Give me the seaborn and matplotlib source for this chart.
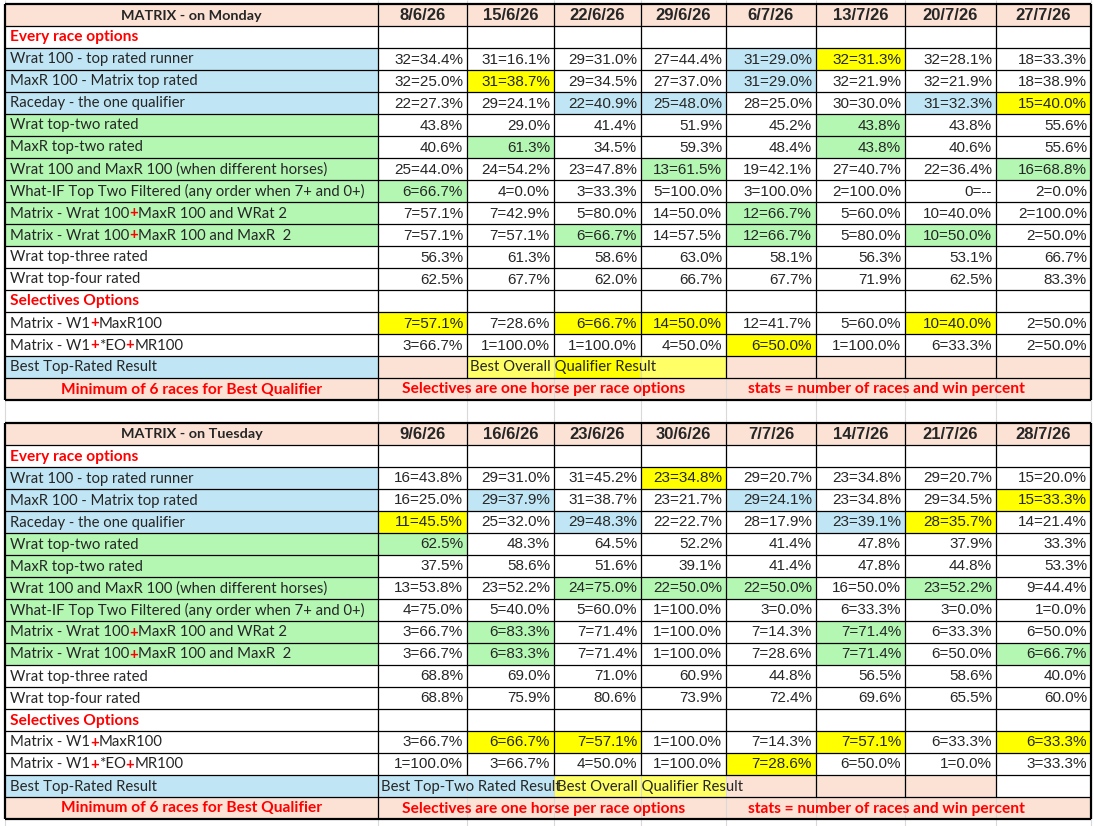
import numpy as np
import matplotlib
matplotlib.use("Agg")
import matplotlib.pyplot as plt
from matplotlib.colors import ListedColormap
from matplotlib.patches import Rectangle
import seaborn as sns

# ---- table content ----
row_labels = [
    "Wrat 100 - top rated runner",
    "MaxR 100 - Matrix top rated",
    "Raceday - the one qualifier",
    "Wrat top-two rated",
    "MaxR top-two rated",
    "Wrat 100 and MaxR 100 (when different horses)",
    "What-IF Top Two Filtered (any order when 7+ and 0+)",
    "Matrix - Wrat 100+MaxR 100 and WRat 2",
    "Matrix - Wrat 100+MaxR 100 and MaxR  2",
    "Wrat top-three rated",
    "Wrat top-four rated",
]
sel_labels = ["Matrix - W1+MaxR100", "Matrix - W1+*EO+MR100"]

mon_dates = ["8/6/26", "15/6/26", "22/6/26", "29/6/26", "6/7/26", "13/7/26", "20/7/26", "27/7/26"]
mon_wrat100 = ["32=34.4%", "31=16.1%", "29=31.0%", "27=44.4%", "31=29.0%", "32=31.3%", "32=28.1%", "18=33.3%"]
mon_maxr100 = ["32=25.0%", "31=38.7%", "29=34.5%", "27=37.0%", "31=29.0%", "32=21.9%", "32=21.9%", "18=38.9%"]
mon_raceday = ["22=27.3%", "29=24.1%", "22=40.9%", "25=48.0%", "28=25.0%", "30=30.0%", "31=32.3%", "15=40.0%"]
mon_wtop2 = ["43.8%", "29.0%", "41.4%", "51.9%", "45.2%", "43.8%", "43.8%", "55.6%"]
mon_mtop2 = ["40.6%", "61.3%", "34.5%", "59.3%", "48.4%", "43.8%", "40.6%", "55.6%"]
mon_both = ["25=44.0%", "24=54.2%", "23=47.8%", "13=61.5%", "19=42.1%", "27=40.7%", "22=36.4%", "16=68.8%"]
mon_whatif = ["6=66.7%", "4=0.0%", "3=33.3%", "5=100.0%", "3=100.0%", "2=100.0%", "0=--", "2=0.0%"]
mon_mx_w2 = ["7=57.1%", "7=42.9%", "5=80.0%", "14=50.0%", "12=66.7%", "5=60.0%", "10=40.0%", "2=100.0%"]
mon_mx_m2 = ["7=57.1%", "7=57.1%", "6=66.7%", "14=57.5%", "12=66.7%", "5=80.0%", "10=50.0%", "2=50.0%"]
mon_wtop3 = ["56.3%", "61.3%", "58.6%", "63.0%", "58.1%", "56.3%", "53.1%", "66.7%"]
mon_wtop4 = ["62.5%", "67.7%", "62.0%", "66.7%", "67.7%", "71.9%", "62.5%", "83.3%"]
mon_w1_mr = ["7=57.1%", "7=28.6%", "6=66.7%", "14=50.0%", "12=41.7%", "5=60.0%", "10=40.0%", "2=50.0%"]
mon_w1_eo = ["3=66.7%", "1=100.0%", "1=100.0%", "4=50.0%", "6=50.0%", "1=100.0%", "6=33.3%", "2=50.0%"]

tue_dates = ["9/6/26", "16/6/26", "23/6/26", "30/6/26", "7/7/26", "14/7/26", "21/7/26", "28/7/26"]
tue_wrat100 = ["16=43.8%", "29=31.0%", "31=45.2%", "23=34.8%", "29=20.7%", "23=34.8%", "29=20.7%", "15=20.0%"]
tue_maxr100 = ["16=25.0%", "29=37.9%", "31=38.7%", "23=21.7%", "29=24.1%", "23=34.8%", "29=34.5%", "15=33.3%"]
tue_raceday = ["11=45.5%", "25=32.0%", "29=48.3%", "22=22.7%", "28=17.9%", "23=39.1%", "28=35.7%", "14=21.4%"]
tue_wtop2 = ["62.5%", "48.3%", "64.5%", "52.2%", "41.4%", "47.8%", "37.9%", "33.3%"]
tue_mtop2 = ["37.5%", "58.6%", "51.6%", "39.1%", "41.4%", "47.8%", "44.8%", "53.3%"]
tue_both = ["13=53.8%", "23=52.2%", "24=75.0%", "22=50.0%", "22=50.0%", "16=50.0%", "23=52.2%", "9=44.4%"]
tue_whatif = ["4=75.0%", "5=40.0%", "5=60.0%", "1=100.0%", "3=0.0%", "6=33.3%", "3=0.0%", "1=0.0%"]
tue_mx_w2 = ["3=66.7%", "6=83.3%", "7=71.4%", "1=100.0%", "7=14.3%", "7=71.4%", "6=33.3%", "6=50.0%"]
tue_mx_m2 = ["3=66.7%", "6=83.3%", "7=71.4%", "1=100.0%", "7=28.6%", "7=71.4%", "6=50.0%", "6=66.7%"]
tue_wtop3 = ["68.8%", "69.0%", "71.0%", "60.9%", "44.8%", "56.5%", "58.6%", "40.0%"]
tue_wtop4 = ["68.8%", "75.9%", "80.6%", "73.9%", "72.4%", "69.6%", "65.5%", "60.0%"]
tue_w1_mr = ["3=66.7%", "6=66.7%", "7=57.1%", "1=100.0%", "7=14.3%", "7=57.1%", "6=33.3%", "6=33.3%"]
tue_w1_eo = ["1=100.0%", "3=66.7%", "4=50.0%", "1=100.0%", "7=28.6%", "6=50.0%", "1=0.0%", "3=33.3%"]

# fill codes: 0 white, 1 peach, 2 blue, 3 green, 4 yellow, 5 pale yellow
W, P, B, G, Y, L = range(6)
fill_colors = ["#FFFFFF", "#FBE2D5", "#C0E6F5", "#B3F7B3", "#FFFF00", "#FFFF66"]
label_fill = [P, W, B, B, B, G, G, G, G, G, G, W, W, W, W, W, B, P]

# highlighted cells (grid row, column, fill)
mon_marks = [(2, 4, B), (2, 5, Y), (3, 1, Y), (3, 4, B), (4, 2, B), (4, 3, B), (4, 6, B), (4, 7, Y),
             (5, 5, G), (6, 1, G), (6, 5, G), (7, 3, G), (7, 7, G), (8, 0, G), (9, 4, G),
             (10, 2, G), (10, 4, G), (10, 6, G), (14, 0, Y), (14, 2, Y), (14, 3, Y), (14, 6, Y), (15, 4, Y)]
tue_marks = [(2, 3, Y), (3, 1, B), (3, 4, B), (3, 7, Y), (4, 0, Y), (4, 2, B), (4, 5, B), (4, 6, Y),
             (5, 0, G), (7, 2, G), (7, 3, G), (7, 4, G), (7, 6, G), (9, 1, G), (9, 5, G),
             (10, 1, G), (10, 5, G), (10, 7, G), (14, 1, Y), (14, 2, Y), (14, 5, Y), (14, 7, Y), (15, 4, Y)]
mon_best = [P, L, Y, L, P, P, P, P]
tue_best = [B, B, L, L, P, P, P, W]

tables = [
    dict(title="MATRIX - on Monday", dates=mon_dates, top=4,
         rows=[mon_wrat100, mon_maxr100, mon_raceday, mon_wtop2, mon_mtop2, mon_both, mon_whatif,
               mon_mx_w2, mon_mx_m2, mon_wtop3, mon_wtop4],
         sel=[mon_w1_mr, mon_w1_eo], marks=mon_marks, best=mon_best,
         best_text=[("Best Overall Qualifier Result", 1, None)],
         best_lines=[1, 4, 5, 6, 7]),
    dict(title="MATRIX - on Tuesday", dates=tue_dates, top=423,
         rows=[tue_wrat100, tue_maxr100, tue_raceday, tue_wtop2, tue_mtop2, tue_both, tue_whatif,
               tue_mx_w2, tue_mx_m2, tue_wtop3, tue_wtop4],
         sel=[tue_w1_mr, tue_w1_eo], marks=tue_marks, best=tue_best,
         best_text=[("Best Top-Two Rated Result", 0, 2), ("Best Overall Qualifier Result", 2, None)],
         best_lines=[5, 6, 7]),
]

# ---- layout (pixels) ----
FW, FH = 1094, 826
left, label_right = 5, 378
col_edges = [378, 467, 554, 641, 726, 816, 905, 996, 1091]
row_h = 22
n_rows = 18
RED = "#FF0000"
LBL_FONT = "Lato"
NUM_FONT = "Liberation Sans"
LBL_SIZE = 10.7
RED_SIZE = 11.2
NUM_SIZE = 11.0

sns.set_theme(style="white")
plt.rcParams["font.family"] = ["Lato", "DejaVu Sans"]

fig = plt.figure(figsize=(FW / 100, FH / 100), dpi=100)
fig.patch.set_facecolor("white")
ov = fig.add_axes([0, 0, 1, 1])
ov.set_xlim(0, FW)
ov.set_ylim(FH, 0)
ov.axis("off")
ov.set_zorder(10)
ov.patch.set_alpha(0)
renderer = fig.canvas.get_renderer()
cmap = ListedColormap(fill_colors)

# faint spreadsheet gridlines behind the tables
for x in [left] + col_edges:
    ov.vlines(x, 0, FH, color="#D9D9D9", lw=0.8, zorder=0)


def cell_fills(t):
    grid = np.zeros((n_rows, 9), dtype=int)
    grid[:, 0] = label_fill
    grid[0, 1:] = P
    grid[17, 1:] = P
    for r, c, code in t["marks"]:
        grid[r, c + 1] = code
    grid[16, 1:] = t["best"]
    return grid


def draw_label(x, y, text, size, family):
    # "Matrix" rows show the joining "+" in bold red
    if not text.startswith("Matrix"):
        ov.text(x, y, text, fontsize=size, family=family, ha="left", va="center")
        return
    for i, piece in enumerate(text.split("+")):
        if i > 0:
            t = ov.text(x, y, "+", color=RED, fontweight="bold", fontsize=size,
                        family=family, ha="left", va="center")
            x += t.get_window_extent(renderer).width
        if piece:
            t = ov.text(x, y, piece, fontsize=size, family=family, ha="left", va="center")
            x += t.get_window_extent(renderer).width


for t in tables:
    top = t["top"]
    bottom = top + n_rows * row_h
    grid = cell_fills(t)
    xs = [left] + col_edges
    # each column of the sheet is its own one-column heatmap, so column widths match
    for j in range(9):
        x0, x1 = xs[j], xs[j + 1]
        ax = fig.add_axes([x0 / FW, 1 - bottom / FH, (x1 - x0) / FW, (bottom - top) / FH])
        sns.heatmap(grid[:, j:j + 1], cmap=cmap, vmin=-0.5, vmax=5.5, cbar=False,
                    xticklabels=False, yticklabels=False, linewidths=0, ax=ax)
        ax.axis("off")

    yc = lambda r: top + r * row_h + row_h / 2 + 0.5

    # horizontal rules
    for r in range(n_rows + 1):
        lw = 1.6 if r in (0, n_rows) else 0.9
        ov.hlines(top + r * row_h, left, col_edges[-1], color="black", lw=lw)
    # vertical rules
    ov.vlines([left, col_edges[-1]], top, bottom, color="black", lw=1.6)
    ov.vlines(label_right, top, bottom, color="black", lw=0.9)
    for k in range(1, 8):
        ov.vlines(col_edges[k], top, top + 16 * row_h, color="black", lw=0.9)
    for k in t["best_lines"]:
        ov.vlines(col_edges[k], top + 16 * row_h, top + 17 * row_h, color="black", lw=0.9)

    # header
    ov.text((left + label_right) / 2, yc(0), t["title"], fontsize=10.4, fontweight="bold",
            family=LBL_FONT, ha="center", va="center")
    for c, d in enumerate(t["dates"]):
        ov.text((col_edges[c] + col_edges[c + 1]) / 2, yc(0), d, fontsize=12, fontweight="bold",
                family=NUM_FONT, ha="center", va="center")

    # section headings
    for r, s in [(1, "Every race options"), (13, "Selectives Options")]:
        ov.text(left + 5, yc(r), s, color=RED, fontsize=RED_SIZE, fontweight="bold",
                family=LBL_FONT, ha="left", va="center")

    # labels and values
    all_rows = list(zip(range(2, 13), row_labels, t["rows"])) + list(zip([14, 15], sel_labels, t["sel"]))
    for r, lab, vals in all_rows:
        draw_label(left + 5, yc(r), lab, LBL_SIZE, LBL_FONT)
        for c, v in enumerate(vals):
            ov.text(col_edges[c + 1] - 4, yc(r), v, fontsize=NUM_SIZE, family=NUM_FONT,
                    ha="right", va="center")

    # best row
    ov.text(left + 5, yc(16), "Best Top-Rated Result", fontsize=LBL_SIZE, family=LBL_FONT,
            ha="left", va="center")
    for txt, c0, c_clip in t["best_text"]:
        tx = ov.text(col_edges[c0] + 3, yc(16), txt, fontsize=LBL_SIZE, family=LBL_FONT,
                     ha="left", va="center")
        if c_clip is not None:
            clip = Rectangle((col_edges[c0], top + 16 * row_h), col_edges[c_clip] - col_edges[c0],
                             row_h, transform=ov.transData, visible=False)
            ov.add_patch(clip)
            tx.set_clip_path(clip)

    # footer
    ov.text((left + label_right) / 2, yc(17), "Minimum of 6 races for Best Qualifier", color=RED,
            fontsize=RED_SIZE, fontweight="bold", family=LBL_FONT, ha="center", va="center")
    ov.text(402, yc(17), "Selectives are one horse per race options", color=RED,
            fontsize=RED_SIZE, fontweight="bold", family=LBL_FONT, ha="left", va="center")
    ov.text(748, yc(17), "stats = number of races and win percent", color=RED,
            fontsize=RED_SIZE, fontweight="bold", family=LBL_FONT, ha="left", va="center")

fig.savefig("out.png", dpi=100, facecolor="white")
